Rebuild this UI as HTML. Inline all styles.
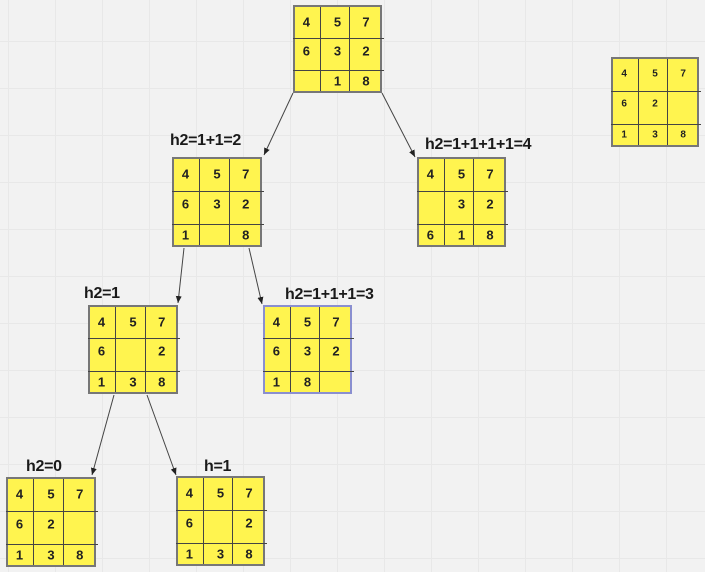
<!DOCTYPE html>
<html><head><meta charset="utf-8"><style>
body{margin:0;width:705px;height:572px;overflow:hidden;background:#f2f2f2;font-family:"Liberation Sans",sans-serif;position:relative;
background-image:linear-gradient(#e8e8e8 1px,transparent 1px),linear-gradient(90deg,#e8e8e8 1px,transparent 1px);background-size:47px 47px;background-position:8px 41px;}
.b{position:absolute;background:#fff44f;border:2px solid #777;box-sizing:border-box;}
.b .v{position:absolute;width:1px;top:0;bottom:0;background:#444;}
.b .h{position:absolute;height:1px;left:-2px;right:-4px;background:#444;}
.n{position:absolute;font-weight:900;font-size:13px;color:#222;transform:translate(-50%,-50%);}
.lbl{position:absolute;font-weight:900;font-size:16px;color:#1a1a1a;letter-spacing:-0.3px;}
svg{position:absolute;left:0;top:0;}
</style></head><body>
<svg width="705" height="572">
<defs><marker id="ar" markerWidth="8" markerHeight="8" refX="7" refY="4" orient="auto"><path d="M0,1 L7,4 L0,7 Z" fill="#222"/></marker></defs>
<g stroke="#444" stroke-width="1" marker-end="url(#ar)">
<line x1="293" y1="93" x2="264" y2="155"/>
<line x1="382" y1="93" x2="415" y2="157"/>
<line x1="184" y1="248" x2="178" y2="303"/>
<line x1="249" y1="248" x2="262" y2="304"/>
<line x1="114" y1="395" x2="92" y2="475"/>
<line x1="147" y1="395" x2="176" y2="475"/>
</g></svg>
<div class="lbl" style="left:170px;top:132px">h2=1+1=2</div>
<div class="lbl" style="left:425px;top:136px">h2=1+1+1+1=4</div>
<div class="lbl" style="left:84px;top:285px">h2=1</div>
<div class="lbl" style="left:285px;top:286px">h2=1+1+1=3</div>
<div class="lbl" style="left:26px;top:458px">h2=0</div>
<div class="lbl" style="left:204px;top:458px">h=1</div>
<script>
const boards=[
 {x:293,y:5,w:89,h:88,c:["4","5","7","6","3","2","","1","8"],name:"root-board"},
 {x:172,y:157,w:90,h:90,c:["4","5","7","6","3","2","1","","8"],name:"board-h2-2"},
 {x:417,y:157,w:89,h:90,c:["4","5","7","","3","2","6","1","8"],name:"board-h2-4"},
 {x:88,y:305,w:90,h:89,c:["4","5","7","6","","2","1","3","8"],name:"board-h2-1"},
 {x:263,y:305,w:89,h:89,c:["4","5","7","6","3","2","1","8",""],name:"board-h2-3",bc:"#8a8fd0"},
 {x:6,y:477,w:90,h:90,c:["4","5","7","6","2","","1","3","8"],name:"board-h2-0"},
 {x:176,y:476,w:89,h:90,c:["4","5","7","6","","2","1","3","8"],name:"board-h-1"},
 {x:611,y:57,w:88,h:90,c:["4","5","7","6","2","","1","3","8"],name:"goal-board",fs:10}
];
const cx=[0.15,0.5,0.82], cy=[0.18,0.51,0.85];
boards.forEach(b=>{
 const d=document.createElement('div');d.className='b';
 
 
 d.style.cssText=`left:${b.x}px;top:${b.y}px;width:${b.w}px;height:${b.h}px;`+(b.bc?`border-color:${b.bc};`:'');
 [0.28,0.61].forEach(f=>{const v=document.createElement('div');v.className='v';v.style.left=(b.w*f)+'px';d.appendChild(v);});
 [0.35,0.72].forEach(f=>{const v=document.createElement('div');v.className='h';v.style.top=(b.h*f)+'px';d.appendChild(v);});
 b.c.forEach((t,i)=>{if(!t)return;const s=document.createElement('div');s.className='n';
  
  
  s.textContent=t;s.style.left=(b.w*cx[i%3]-2)+'px';s.style.top=(b.h*cy[Math.floor(i/3)]-1)+'px';
  if(b.fs)s.style.fontSize=b.fs+'px';d.appendChild(s);});
 document.body.appendChild(d);
});
</script>
</body></html>
